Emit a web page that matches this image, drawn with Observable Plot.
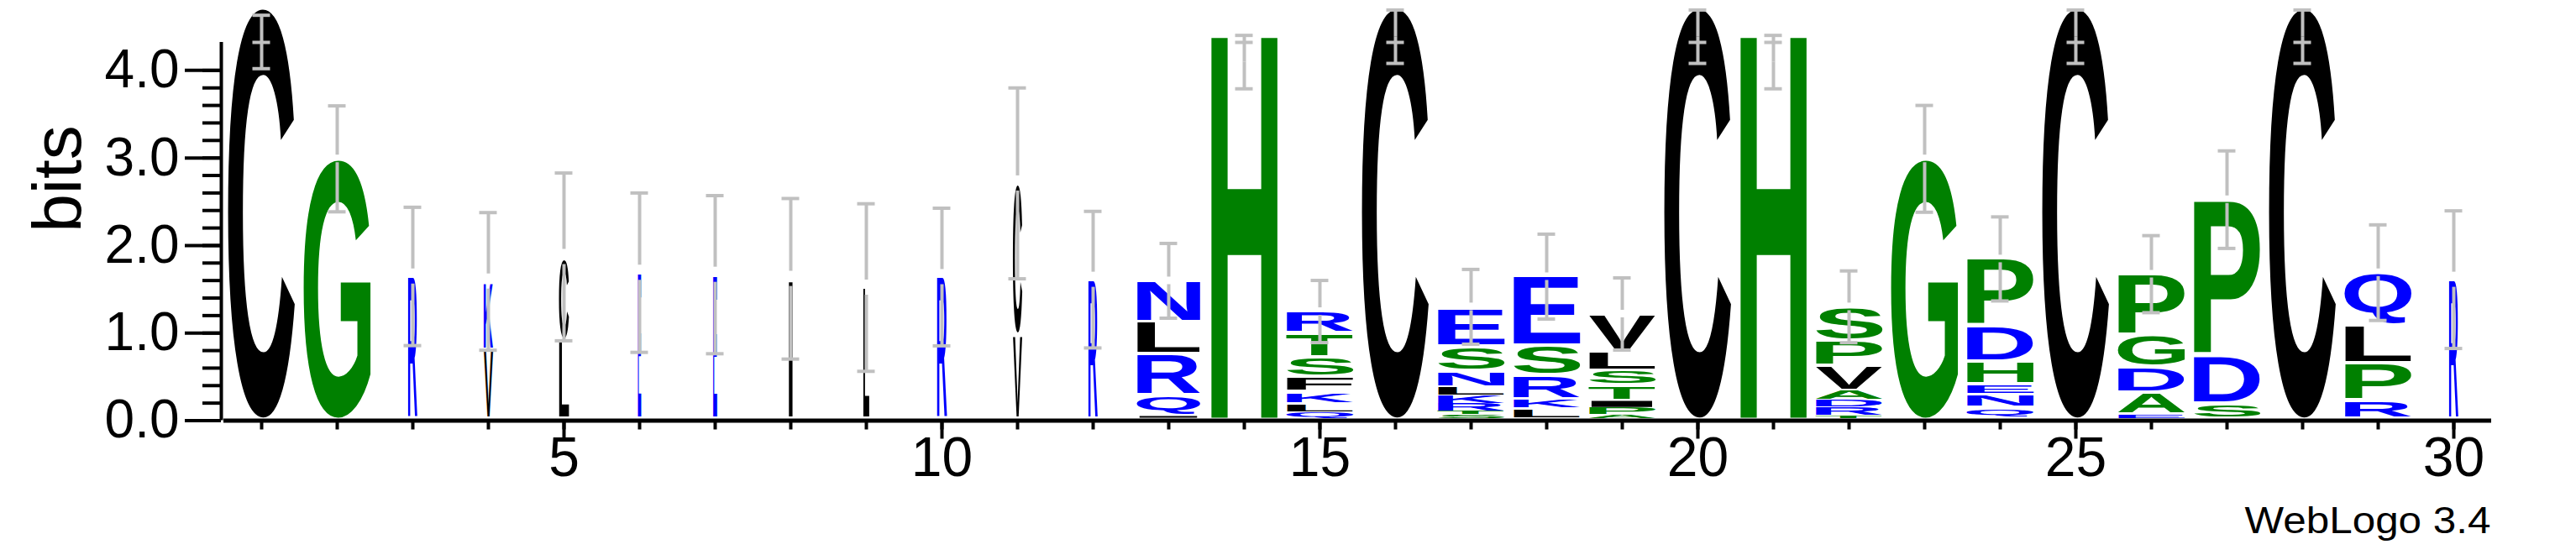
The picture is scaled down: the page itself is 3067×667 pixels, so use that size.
<!DOCTYPE html>
<html><head><meta charset="utf-8">
<script src="https://cdn.jsdelivr.net/npm/d3@7"></script>
<script src="https://cdn.jsdelivr.net/npm/@observablehq/plot@0.6"></script>
<style>body{margin:0;background:#fff}#chart{width:3067px;height:667px}</style>
</head><body><div id="chart"></div>
<script>
// ---- data ----
const positions = d3.range(1, 31);
// relative stack widths (fraction of non-gap sequences)
const stackWidths = [1,1,0.14,0.14,0.15,0.05,0.06,0.06,0.09,0.15,0.14,0.14,0.95,1,1,1,1,1,1,1,1,1,1,1,1,1,1,1,1,0.14];
// letters of each stack, bottom to top
const stackLetters = [
  "C","G","R","VK","LC","E","E","I","L","R",
  "VC","R","IQRLN","H","DQLKFSTR","C","STRKLNSE","DLKRSE","APITSLV","C",
  "H","TRDAVPS","G","QNEHDP","C","EADGP","SDP","C","RPLQ","R"
];
const stackHeights = [
  [4.71],[2.98],[1.65],[0.815,0.777],[0.92,0.936],[1.69],[1.67],[1.62],[1.53],[1.65],
  [0.98,1.714],[1.61],[0.058,0.235,0.47,0.364,0.475],[4.45],[0.029,0.077,0.086,0.139,0.173,0.221,0.278,0.245],[4.71],
  [0.072,0.038,0.091,0.096,0.091,0.187,0.283,0.436],[0.038,0.096,0.12,0.273,0.336,0.805],[0.067,0.086,0.077,0.177,0.173,0.216,0.412],[4.71],
  [4.45],[0.062,0.096,0.086,0.105,0.278,0.292,0.374],[2.98],[0.149,0.144,0.125,0.264,0.403,0.767],[4.71],
  [0.072,0.254,0.288,0.364,0.70],[0.197,0.542,1.783],[4.71],[0.23,0.427,0.436,0.604],[1.61]
];
// error bars: centre (bits) and half length (bits)
const errCenter = [4.325,2.99,1.647,1.59,1.87,1.69,1.667,1.62,1.52,1.64,2.71,1.61,1.597,4.095,1.246,4.385,1.30,1.645,1.218,4.385,4.095,1.30,2.99,1.847,4.385,1.673,2.524,4.385,1.69,1.61];
const errHalf   = [0.305,0.605,0.79,0.786,0.958,0.91,0.903,0.917,0.957,0.786,1.09,0.78,0.427,0.305,0.355,0.305,0.427,0.485,0.412,0.305,0.305,0.41,0.61,0.48,0.305,0.44,0.557,0.305,0.546,0.786];
const xTickLabels = [5,10,15,20,25,30];
const yTickLabels = [0,1,2,3,4];
const yMinorTicks = d3.range(0, 21).map(i => i / 5);
const yMax = 4.32; // log2(20)
const hydrophilic = "RKDENQ", neutral = "SGHTAP"; // rest hydrophobic
const colorOf = l => hydrophilic.includes(l) ? "#0000ff" : neutral.includes(l) ? "#008000" : "#000000";

// ---- table of glyph slots ----
const glyphs = [];
positions.forEach((p, i) => {
  let y0 = 0;
  [...stackLetters[i]].forEach((l, j) => {
    const h = stackHeights[i][j];
    glyphs.push({pos: p, letter: l, y0, y1: y0 + h, w: stackWidths[i], color: colorOf(l)});
    y0 += h;
  });
});
const W = 3067, H = 667, mL = 266, mR = 101, mT = 50, mB = 166.5;
const bitsPerPx = yMax / (H - mT - mB);
const unitsPerPx = 30 / (W - mL - mR);
const errSegs = [], errCaps = [];
positions.forEach((p, i) => {
  const c = errCenter[i], e = errHalf[i];
  const gapPx = stackWidths[i] < 0.5 ? 9 : (c > 4 ? 0 : 4.5);
  const gap = gapPx * bitsPerPx;
  errSegs.push({pos: p, a: c + gap, b: c + e}, {pos: p, a: c - e, b: c - gap});
  errCaps.push({pos: p, y: c + e}, {pos: p, y: c - e});
  if (c - e < yMax && c + e > yMax) errCaps.push({pos: p, y: yMax});
});
const capHalf = 10.5 * unitsPerPx;
const font = '"Liberation Sans", Arial, Helvetica, sans-serif';

const plot = Plot.plot({
  width: W, height: H,
  marginLeft: mL, marginRight: mR, marginTop: mT, marginBottom: mB,
  style: {fontFamily: font, background: "#fff", overflow: "visible"},
  x: {domain: [0.5, 30.5], axis: null},
  y: {domain: [0, yMax], axis: null},
  marks: [
    Plot.text(glyphs, {x: "pos", y: d => (d.y0 + d.y1) / 2, text: "letter", fill: "color"}),
    Plot.ruleX(errSegs, {x: "pos", y1: "a", y2: "b", stroke: "#c0c0c0", strokeWidth: 4}),
    Plot.ruleY(errCaps, {y: "y", x1: d => d.pos - capHalf, x2: d => d.pos + capHalf, stroke: "#c0c0c0", strokeWidth: 4}),
    // y axis
    Plot.ruleX([0.5], {y1: 0, y2: yMax, dx: -3, stroke: "#000", strokeWidth: 4}),
    Plot.ruleY(yMinorTicks, {y: d => d, x1: 0.5 - 25 * unitsPerPx, x2: 0.5 - 3 * unitsPerPx, stroke: "#000", strokeWidth: 4}),
    Plot.ruleY(yTickLabels, {y: d => d, x1: 0.5 - 46 * unitsPerPx, x2: 0.5 - 3 * unitsPerPx, stroke: "#000", strokeWidth: 4}),
    Plot.text(yTickLabels, {y: d => d, text: d => d.toFixed(1), frameAnchor: "left", dx: -53, textAnchor: "end", fontSize: 64, fill: "#000"}),
    Plot.text(["bits"], {frameAnchor: "left", dx: -197, dy: 1, rotate: -90, fontSize: 82, fill: "#000"}),
    // x axis
    Plot.ruleY([0], {x1: 0.5, x2: 30.5, stroke: "#000", strokeWidth: 5}),
    Plot.ruleX(positions, {x: d => d, y1: 0, y2: -11 * bitsPerPx, stroke: "#000", strokeWidth: 4}),
    Plot.ruleX(xTickLabels, {x: d => d, y1: 0, y2: -22 * bitsPerPx, stroke: "#000", strokeWidth: 4}),
    Plot.text(xTickLabels, {x: d => d, frameAnchor: "bottom", dy: 66, fontSize: 66, fill: "#000"}),
    Plot.text(["WebLogo 3.4"], {frameAnchor: "bottom-right", dx: -1, dy: 134, textAnchor: "end", fontSize: 45, fill: "#000"})
  ]
});
document.getElementById("chart").appendChild(plot);

// ---- stretch each letter glyph to fill its slot (via the plot's scales) ----
const xs = plot.scale("x"), ys = plot.scale("y");
const ctx = document.createElement("canvas").getContext("2d");
const glyphFont = 'bold 100px "Liberation Sans"';
ctx.font = glyphFont;
const colPx = xs.apply(2) - xs.apply(1);
const textGroups = plot.querySelectorAll('g[aria-label="text"]');
const texts = textGroups[0].querySelectorAll("text");
texts.forEach((el, i) => {
  const g = glyphs[i];
  const m = ctx.measureText(g.letter);
  const L = m.actualBoundingBoxLeft, R = m.actualBoundingBoxRight;
  const A = m.actualBoundingBoxAscent, D = m.actualBoundingBoxDescent;
  const cx = xs.apply(g.pos), w = colPx * 0.89 * g.w;
  let top = ys.apply(g.y1), bot = ys.apply(g.y0);
  const hpx = bot - top;
  const inset = hpx > 200 ? 0.5 : hpx > 12 ? 2 : 0.4;
  top += inset; bot -= inset;
  if (g.y0 === 0) bot -= 3;
  const X0 = cx - w / 2, X1 = cx + w / 2;
  const sx = (X1 - X0) / (L + R), sy = Math.max(bot - top, 0.3) / (A + D);
  el.setAttribute("x", 0); el.setAttribute("y", 0);
  el.removeAttribute("dy"); el.removeAttribute("dx");
  el.setAttribute("text-anchor", "start");
  el.setAttribute("style", `font:${glyphFont};`);
  el.setAttribute("transform", `translate(${X0 + L * sx},${bot - D * sy}) scale(${sx},${sy})`);
});
// the footer text is slightly wider in the reference
const footer = textGroups[textGroups.length - 1].querySelector("text");
footer.setAttribute("textLength", 293);
footer.setAttribute("lengthAdjust", "spacingAndGlyphs");
</script></body></html>
